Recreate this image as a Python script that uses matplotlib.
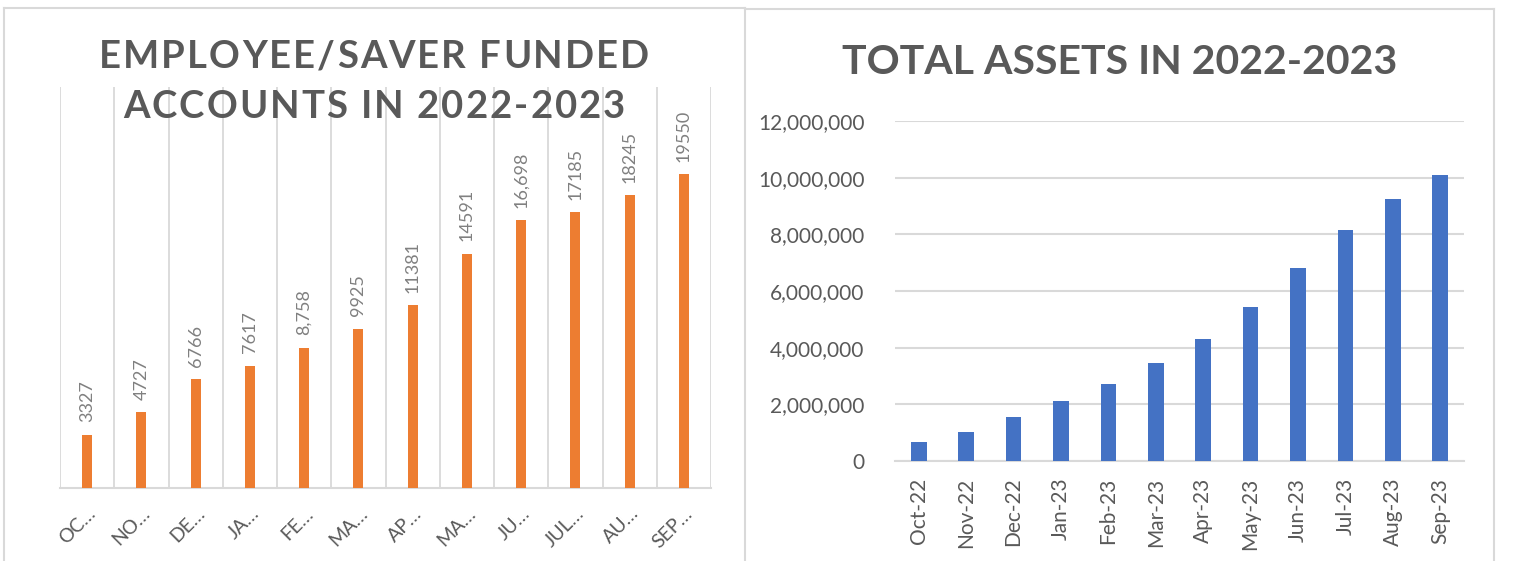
import matplotlib
matplotlib.use("Agg")
import matplotlib.pyplot as plt
from matplotlib.lines import Line2D
from matplotlib.font_manager import FontProperties
from matplotlib.textpath import text_to_path
import numpy as np

# left chart: employee/saver funded accounts
acct_labels = ["OC…", "NO…", "DE…", "JA…", "FE…", "MA…",
               "AP…", "MA…", "JU…", "JUL…", "AU…", "SEP…"]
acct_values = [3327, 4727, 6766, 7617, 8758, 9925,
               11381, 14591, 16698, 17185, 18245, 19550]
acct_text = ["3327", "4727", "6766", "7617", "8,758", "9925",
             "11381", "14591", "16,698", "17185", "18245", "19550"]

# right chart: total assets
asset_months = ["Oct-22", "Nov-22", "Dec-22", "Jan-23", "Feb-23", "Mar-23",
                "Apr-23", "May-23", "Jun-23", "Jul-23", "Aug-23", "Sep-23"]
asset_values = [670000, 1020000, 1550000, 2120000, 2720000, 3460000,
                4310000, 5440000, 6810000, 8150000, 9250000, 10100000]

W, H = 1530, 561
plt.rcParams['font.family'] = ['Lato', 'DejaVu Sans']
grey_txt = '#595959'
grid_c = '#d9d9d9'

fig = plt.figure(figsize=(W / 100, H / 100), dpi=100)


def box(x0, y0, x1, y1):
    # pixel box (top-left origin) -> figure fraction
    return [x0 / W, 1 - y1 / H, (x1 - x0) / W, (y1 - y0) / H]


def spaced_text(cx, cy, s, size, spacing_px, **kw):
    # draw text centred at pixel (cx, cy) with extra letter spacing
    fp = FontProperties(family='Lato', weight='bold', size=size)
    px = 100 / 72
    def wid(t):
        if not t:
            return 0.0
        return text_to_path.get_text_width_height_descent(t.replace(' ', '\u00a0'), fp, ismath=False)[0] * px
    total = wid(s) + spacing_px * (len(s) - 1)
    x0 = cx - total / 2
    for i, ch in enumerate(s):
        if ch == ' ':
            continue
        xi = x0 + wid(s[:i]) + spacing_px * i
        fig.text(xi / W, 1 - cy / H, ch, ha='left', va='center', fontproperties=fp, **kw)


# panel borders
for xs, ys in [([4, 745], [8, 8]), ([745, 745], [8, 561]),
               ([745, 1494], [9, 9]), ([1494, 1494], [9, 561]), ([4, 4], [8, 561])]:
    fig.add_artist(Line2D([x / W for x in xs], [1 - y / H for y in ys],
                          color=grid_c, lw=1.5, transform=fig.transFigure))

# ---- left chart ----
ax1 = fig.add_axes(box(60, 87, 711, 488))
x = np.arange(len(acct_values))
ax1.bar(x, acct_values, width=0.18, color='#ED7D31', zorder=3)
ax1.set_xlim(-0.5, len(x) - 0.5)
ax1.set_ylim(0, 25000)
ax1.set_xticks(x)
ax1.set_xticklabels(acct_labels, rotation=45, ha='right', rotation_mode='anchor',
                    fontsize=14, color=grey_txt)
ax1.set_xticks(np.arange(-0.5, len(x), 1), minor=True)
ax1.tick_params(axis='x', which='both', length=0, pad=12)
ax1.set_yticks([])
ax1.grid(True, axis='x', which='minor', color=grid_c, lw=1.3, zorder=0)
for s in ['top', 'left', 'right']:
    ax1.spines[s].set_visible(False)
ax1.spines['bottom'].set_color(grid_c)
ax1.spines['bottom'].set_linewidth(1.5)
for xi, v, t in zip(x, acct_values, acct_text):
    ax1.annotate(t, (xi, v), xytext=(0, 9), textcoords='offset points',
                 rotation=90, ha='center', va='bottom', fontsize=13, color='#808080')

spaced_text(374, 57, "EMPLOYEE/SAVER FUNDED", 27.5, 2.1, color=grey_txt)
spaced_text(374, 107, "ACCOUNTS IN 2022-2023", 27.5, 2.1, color=grey_txt)

# ---- right chart ----
ax2 = fig.add_axes(box(895, 121, 1464, 461))
x2 = np.arange(len(asset_values))
ax2.bar(x2, asset_values, width=0.33, color='#4472C4', zorder=3)
ax2.set_xlim(-0.5, len(x2) - 0.5)
ax2.set_ylim(0, 12000000)
ax2.set_yticks(np.arange(0, 12000001, 2000000))
ax2.yaxis.set_major_formatter(matplotlib.ticker.FuncFormatter(lambda v, p: f"{int(v):,}"))
ax2.set_xticks(x2)
ax2.set_xticklabels(asset_months, rotation=90, fontsize=15, color=grey_txt)
ax2.tick_params(axis='y', length=0, pad=22, labelsize=15, labelcolor=grey_txt)
ax2.tick_params(axis='x', length=0, pad=12)
ax2.grid(True, axis='y', color=grid_c, lw=1.5, zorder=0)
for s in ['top', 'left', 'right']:
    ax2.spines[s].set_visible(False)
ax2.spines['bottom'].set_color(grid_c)
ax2.spines['bottom'].set_linewidth(1.5)

fig.text(1120 / W, 1 - 62 / H, "TOTAL ASSETS IN 2022-2023", ha='center', va='center',
         fontsize=29.5, fontweight='bold', color=grey_txt)

fig.savefig('out.png', dpi=100)
